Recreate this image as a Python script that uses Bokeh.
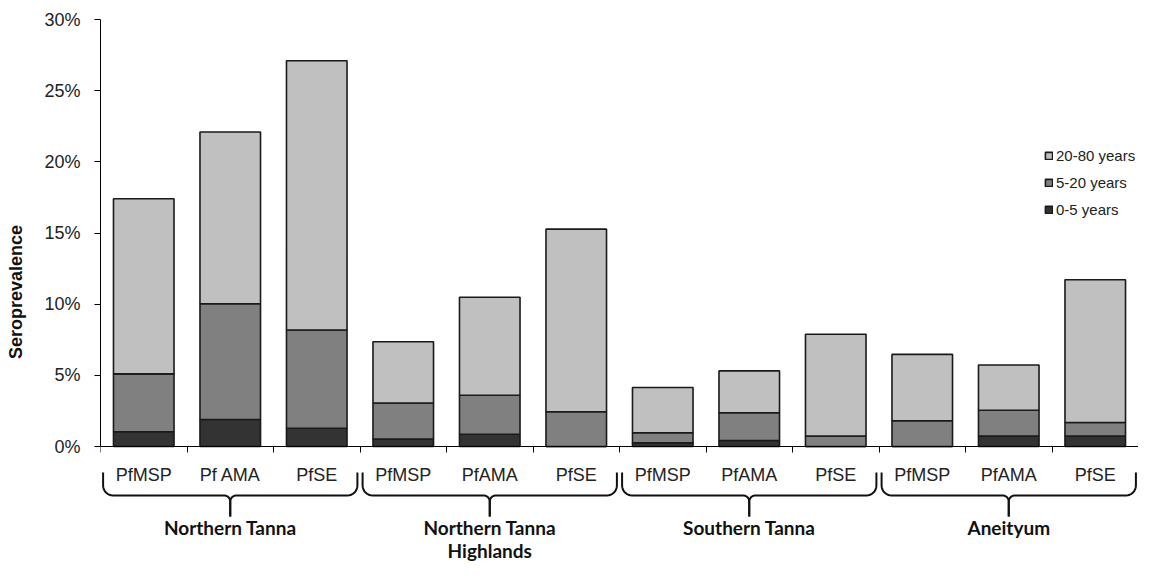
import math
from bokeh.plotting import figure
from bokeh.models import (Range1d, FixedTicker, PrintfTickFormatter, Legend,
                          LegendItem, ColumnDataSource)
from bokeh.core.properties import value
from bokeh.embed import file_html
from bokeh.resources import INLINE

# ---------------- data ----------------
groups = ["Northern Tanna", "Northern Tanna\nHighlands", "Southern Tanna", "Aneityum"]
antigens = ["PfMSP", "Pf AMA", "PfSE",
            "PfMSP", "PfAMA", "PfSE",
            "PfMSP", "PfAMA", "PfSE",
            "PfMSP", "PfAMA", "PfSE"]
age_groups = ["0-5 years", "5-20 years", "20-80 years"]
age_0_5 = [1.04, 1.90, 1.28, 0.53, 0.86, 0.00, 0.26, 0.42, 0.00, 0.00, 0.74, 0.74]
age_5_20 = [4.06, 8.13, 6.91, 2.53, 2.74, 2.44, 0.71, 1.95, 0.74, 1.81, 1.81, 0.95]
age_20_80 = [12.31, 12.07, 18.91, 4.30, 6.89, 12.83, 3.18, 2.94, 7.15, 4.66, 3.18, 10.03]
y_ticks = [0, 5, 10, 15, 20, 25, 30]
y_label = "Seroprevalence"

# ---------------- layout ----------------
WIDTH, HEIGHT = 1138, 564
LEFT, TOP = 100, 19
ZERO_Y = 446                      # pixel row of 0%
FRAME_W = WIDTH - LEFT
FRAME_H = HEIGHT - TOP
X_END = 12.0
Y_END = 30.0
PX_X = FRAME_W / X_END
PX_Y = (ZERO_Y - TOP) / Y_END
Y_START = -(HEIGHT - ZERO_Y) / PX_Y

colors = ["#333333", "#808080", "#c0c0c0"]
edge = "#1a1a1a"

p = figure(width=WIDTH, height=HEIGHT,
           x_range=Range1d(0, X_END), y_range=Range1d(Y_START, Y_END),
           output_backend="svg", toolbar_location=None,
           min_border_left=LEFT, min_border_right=0,
           min_border_top=TOP, min_border_bottom=0)
p.outline_line_color = None
p.xgrid.visible = False
p.ygrid.visible = False
p.background_fill_color = "white"
p.border_fill_color = "white"

n = len(antigens)
xs = [i + 0.5 for i in range(n)]
src = ColumnDataSource(dict(x=xs, a=age_0_5, b=age_5_20, c=age_20_80))
rends = p.vbar_stack(["a", "b", "c"], x="x", width=0.70, source=src,
                     fill_color=colors, line_color=edge, line_width=1.6)

# y axis
ya = p.yaxis[0]
ya.bounds = (0, 30)
ya.ticker = FixedTicker(ticks=y_ticks)
ya.formatter = PrintfTickFormatter(format="%d%%")
ya.minor_tick_line_color = None
ya.major_tick_in = 0
ya.major_tick_out = 6
ya.axis_line_color = "black"
ya.major_tick_line_color = "black"
ya.major_label_text_font = "Liberation Sans"
ya.major_label_text_font_size = "18px"
ya.major_label_text_color = "#222222"
ya.major_label_standoff = 14
ya.axis_label = y_label
ya.axis_label_text_font = "Liberation Sans"
ya.axis_label_text_font_style = "bold"
ya.axis_label_text_font_size = "18px"
ya.axis_label_text_color = "#111111"
ya.axis_label_standoff = 15

# x axis at zero
xa = p.xaxis[0]
xa.fixed_location = 0
xa.ticker = FixedTicker(ticks=list(range(n + 1)))
xa.minor_tick_line_color = None
xa.major_tick_in = 0
xa.major_tick_out = 6
xa.major_label_text_color = None
xa.axis_line_color = "black"
xa.major_tick_line_color = "black"

# category labels
p.text(x=xs, y=[-28 / PX_Y] * n, text=antigens, text_align="center",
       text_baseline="middle", text_font=value("Liberation Sans"),
       text_font_size="18px", text_color="#222222")

# braces
def brace_halves(x0, x1):
    top, mid, tip = 26.0, 49.0, 70.0
    r1, r2 = 10.0, 6.0
    xc = (x0 + x1) / 2.0
    lx, ly = [], []
    lx.append(x0); ly.append(top)
    for k in range(9):
        t = math.pi - k * (math.pi / 2) / 8
        lx.append(x0 + r1 + r1 * math.cos(t)); ly.append(mid - r1 + r1 * math.sin(t))
    for k in range(9):
        t = -math.pi / 2 + k * (math.pi / 2) / 8
        lx.append(xc - r2 + r2 * math.cos(t)); ly.append(mid + r2 + r2 * math.sin(t))
    lx.append(xc); ly.append(tip)
    rx = [2 * xc - v for v in lx]
    out = []
    for hx, hy in ((lx, ly), (rx, ly)):
        out.append(([v / PX_X for v in hx], [-v / PX_Y for v in hy]))
    return out

bx, by = [], []
for g in range(len(groups)):
    x0 = (3 * g + 0.03) * PX_X
    x1 = (3 * g + 3 - 0.03) * PX_X
    for hx, hy in brace_halves(x0, x1):
        bx.append(hx); by.append(hy)
p.multi_line(bx, by, line_color="#111111", line_width=2)

# group labels
gx, gy, gt = [], [], []
for g, name in enumerate(groups):
    for k, line in enumerate(name.split("\n")):
        gx.append(3 * g + 1.5); gy.append(-(81 + k * 23) / PX_Y); gt.append(line)
p.text(x=gx, y=gy, text=gt, text_align="center", text_baseline="middle",
       text_font=value("Lato"), text_font_style="bold",
       text_font_size="19px", text_color="#111111")

# legend
items = [LegendItem(label=age_groups[i], renderers=[rends[i]]) for i in (2, 1, 0)]
legend = Legend(items=items, location=(944, 346), padding=0, margin=0,
                border_line_color=None, background_fill_alpha=0,
                glyph_width=9, glyph_height=9, label_standoff=3, spacing=10,
                label_text_font="Liberation Sans", label_text_font_size="15px",
                label_text_color="#222222")
p.add_layout(legend, "center")

open("out.html", "w").write(file_html(p, INLINE))
